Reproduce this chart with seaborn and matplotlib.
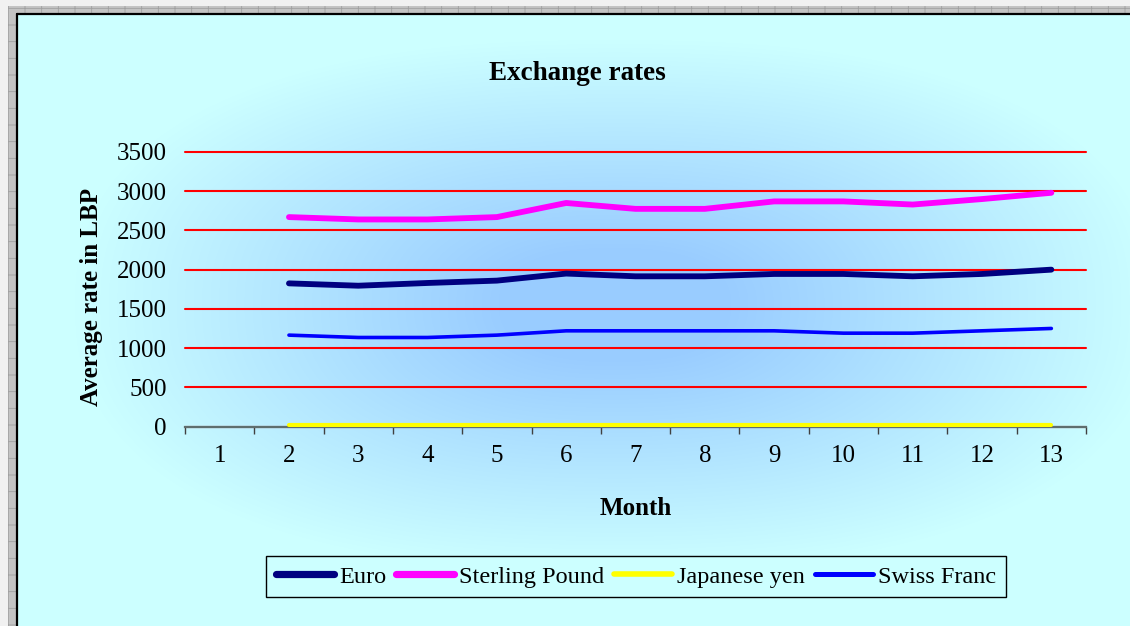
import numpy as np
import pandas as pd
import matplotlib
matplotlib.use("Agg")
import matplotlib.pyplot as plt
from matplotlib.patches import Rectangle
from matplotlib.lines import Line2D
import seaborn as sns

# Monthly average exchange rates (LBP per unit of currency)
months = [2, 3, 4, 5, 6, 7, 8, 9, 10, 11, 12, 13]
euro = [1825, 1795, 1830, 1860, 1950, 1915, 1915, 1945, 1945, 1915, 1945, 2000]
sterling = [2670, 2640, 2640, 2670, 2850, 2775, 2775, 2870, 2870, 2830, 2900, 2980]
yen = [13, 13, 13, 13, 13, 13, 13, 13, 13, 13, 13, 13]
swiss = [1165, 1135, 1135, 1165, 1220, 1220, 1220, 1220, 1190, 1190, 1220, 1250]

series_names = ["Euro", "Sterling Pound", "Japanese yen", "Swiss Franc"]
month_ticks = list(range(1, 14))
rate_ticks = [0, 500, 1000, 1500, 2000, 2500, 3000, 3500]

df = pd.DataFrame({
    "Month": months * 4,
    "Rate": euro + sterling + yen + swiss,
    "Currency": sum([[n] * len(months) for n in series_names], []),
})

colors = {"Euro": "#000080", "Sterling Pound": "#FF00FF",
          "Japanese yen": "#FFFF00", "Swiss Franc": "#0000FF"}
widths = {"Euro": 4.2, "Sterling Pound": 4.2, "Japanese yen": 3.0, "Swiss Franc": 2.6}

sns.set_style("white")
plt.rcParams["font.family"] = ["Liberation Serif", "DejaVu Serif"]
for key in ["text.color", "axes.labelcolor", "xtick.color", "ytick.color"]:
    plt.rcParams[key] = "black"
plt.rcParams["hatch.linewidth"] = 0.6

W, H = 1130, 626
fig = plt.figure(figsize=(W / 100, H / 100), dpi=100)
fig.patch.set_facecolor("#F1F1F1")

def fx(px):
    return px / W

def fy(py):
    return 1 - py / H

# worksheet selection frame around the chart object (left and top bands)
for (x0, y0, x1, y1) in [(8, 6, 16, H), (8, 6, W, 14)]:
    fig.patches.append(Rectangle((fx(x0), fy(y1)), fx(x1 - x0), (y1 - y0) / H,
                                 transform=fig.transFigure, facecolor="#C4C4C4",
                                 edgecolor="#A0A0A0", hatch="+", linewidth=0,
                                 zorder=-1))

# chart area with a centred gradient fill
cx, cy, a, b, p = 615, 305, 540, 265, 2.4
left_px, top_px = 16, 14
xs = np.arange(left_px, W) + 0.5
ys = np.arange(top_px, H) + 0.5
X, Y = np.meshgrid(xs, ys)
d = ((np.abs(X - cx) / a) ** p + (np.abs(Y - cy) / b) ** p) ** (1 / p)
t = np.clip(1.25 * (1 - d), 0, 1)
edge = np.array([204, 255, 255]) / 255
centre = np.array([153, 204, 255]) / 255
img = edge + (centre - edge) * t[..., None]

bg = fig.add_axes([fx(left_px), 0, 1 - fx(left_px), fy(top_px)], zorder=1)
bg.imshow(img, aspect="auto", interpolation="bilinear")
bg.set_axis_off()
fig.lines.append(Line2D([fx(16.5), fx(16.5)], [0, fy(13.5)], transform=fig.transFigure,
                        color="black", linewidth=1.6, zorder=5))
fig.lines.append(Line2D([fx(16.5), 1], [fy(14), fy(14)], transform=fig.transFigure,
                        color="black", linewidth=1.6, zorder=5))

# plot area
ax_l, ax_r, ax_t, ax_b = 185, 1086, 152, 426.5
ax = fig.add_axes([fx(ax_l), fy(ax_b), fx(ax_r - ax_l), (ax_b - ax_t) / H], zorder=2)
ax.patch.set_alpha(0)

for name in series_names:
    sns.lineplot(data=df[df["Currency"] == name], x="Month", y="Rate", ax=ax,
                 color=colors[name], linewidth=widths[name], label=name,
                 solid_capstyle="round", solid_joinstyle="round", zorder=3,
                 legend=False)

ax.set_xlim(0.5, 13.5)
ax.set_ylim(0, 3500)
ax.set_xticks(month_ticks)
ax.set_xticklabels([str(m) for m in month_ticks])
ax.set_xticks(np.arange(0.5, 14, 1.0), minor=True)
ax.set_yticks(rate_ticks)
ax.set_yticklabels([str(v) for v in rate_ticks])
ax.tick_params(axis="x", which="major", length=0, pad=13, labelsize=18)
ax.tick_params(axis="x", which="minor", length=5, width=1, color="#404040",
               direction="out", bottom=True)
ax.tick_params(axis="y", length=0, pad=13, labelsize=18)

ax.grid(axis="y", color="#FF0000", linewidth=1.5)
ax.set_axisbelow(True)
for gl in ax.get_ygridlines():
    gl.set_clip_on(False)
for s in ["top", "right", "left"]:
    ax.spines[s].set_visible(False)
ax.spines["bottom"].set_color("#5E6E6E")
ax.spines["bottom"].set_linewidth(1.6)
ax.set_xlabel("")
ax.set_ylabel("")

fig.text(fx(577.5), fy(80.5), "Exchange rates", ha="center", va="baseline",
         fontsize=19.5, fontweight="bold", zorder=6)
fig.text(fx(635.5), fy(515), "Month", ha="center", va="baseline",
         fontsize=18, fontweight="bold", zorder=6)
fig.text(fx(91.5), fy(297), "Average rate in LBP", ha="center", va="center",
         rotation=90, fontsize=18, fontweight="bold", zorder=6)

handles = [Line2D([], [], color=colors[n], linewidth=widths[n] + 1.0,
                  solid_capstyle="round") for n in series_names]
leg = fig.legend(handles, series_names, loc="center", ncol=4,
                 bbox_to_anchor=(fx(636), fy(576.5)), fontsize=17.5,
                 frameon=True, fancybox=False, framealpha=1, facecolor="#CCFFFF",
                 edgecolor="black", handlelength=2.4, handletextpad=0.2,
                 columnspacing=0.4, borderpad=0.4, borderaxespad=0)
leg.get_frame().set_linewidth(1.0)
leg.set_zorder(6)

fig.savefig("out.png", dpi=100, facecolor=fig.get_facecolor())
